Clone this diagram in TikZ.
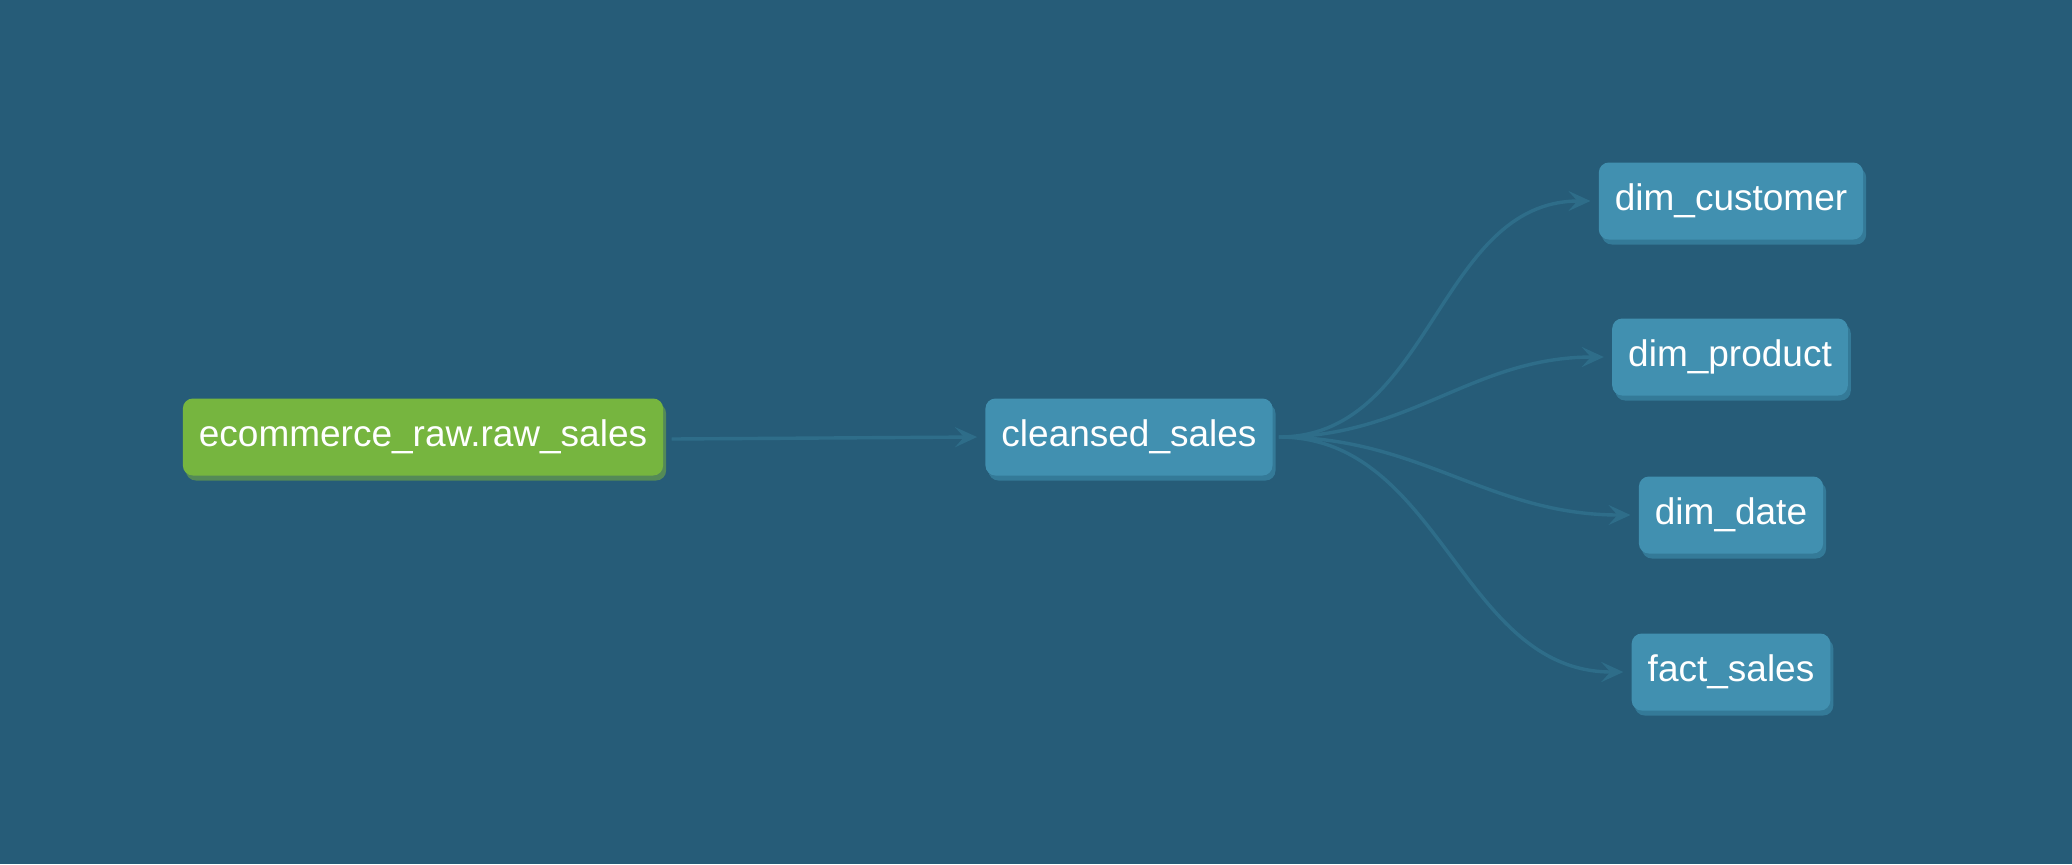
\documentclass[tikz,border=0pt]{standalone}
\usepackage{xcolor}
\usepackage{tikz}
\usepackage{fontspec}
\setmainfont{Liberation Sans}
\usetikzlibrary{positioning,shapes,shadows,arrows.meta}

\definecolor{pagebg}{HTML}{265C78}
\definecolor{rawgreen}{HTML}{76B53F}
\definecolor{rawshade}{HTML}{548A57}
\definecolor{modelblue}{HTML}{4190B0}
\definecolor{modelshade}{HTML}{347A98}
\definecolor{linkblue}{HTML}{2E6D89}

\begin{document}
\begin{tikzpicture}[x=0.5pt, y=-0.5pt,
        box/.style = {shape=rectangle, rounded corners=5pt,
        align=center, text=white, font=\fontsize{18.5}{20}\selectfont,
        minimum height=38.5pt, inner xsep=8pt},
        source/.style = {box, fill=rawgreen,
        drop shadow={shadow xshift=1.5pt, shadow yshift=-2.5pt, opacity=1, fill=rawshade}},
        model/.style = {box, fill=modelblue,
        drop shadow={shadow xshift=1.5pt, shadow yshift=-2.5pt, opacity=1, fill=modelshade}},
        link/.style = {draw=linkblue, line width=1.7pt,
        -{Stealth[length=11pt, width=10pt, inset=4.5pt]}}]
        \fill[pagebg] (0,0) rectangle (2072,864);
        \useasboundingbox (0,0) rectangle (2072,864);

        \node[source] (raw) at (423,437) {ecommerce\_raw.raw\_sales};
        \node[model] (clean) at (1129,437) {cleansed\_sales};

        \node[model] (customer) at (1731,201) {dim\_customer};
        \node[model] (product) at (1730,357) {dim\_product};
        \node[model] (date) at (1731,515) {dim\_date};
        \node[model] (fact) at (1731,672) {fact\_sales};

        \draw[link] ([xshift=4pt, yshift=-1pt]raw.east) -- ([xshift=-4pt]clean.west);
        \foreach \target in {customer, product, date, fact}
            \draw[link] ([xshift=3pt]clean.east) to[out=0, in=180] ([xshift=-4pt]\target.west);
\end{tikzpicture}
\end{document}
